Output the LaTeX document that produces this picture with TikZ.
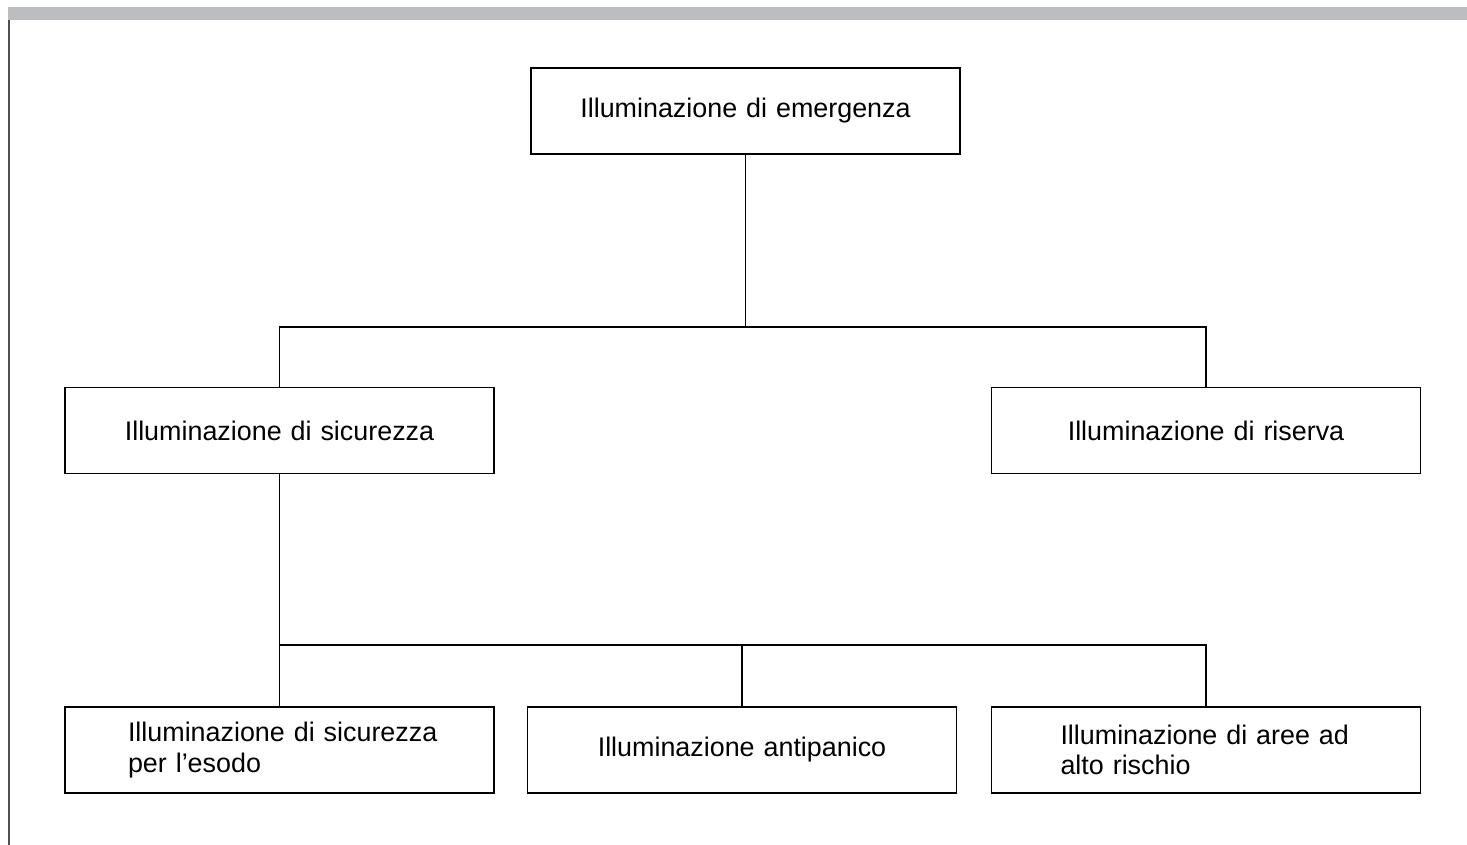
\documentclass[tikz,border=0pt]{standalone}
\usepackage{fontspec}
\setmainfont{Liberation Sans}
\usetikzlibrary{positioning}
\definecolor{bargray}{RGB}{188,189,193}
\definecolor{edgegray}{RGB}{80,80,80}
\newcommand{\indented}[3]{\hspace*{#1}#2\\\hspace*{#1}#3}

\begin{document}
\begin{tikzpicture}[
  font=\fontsize{15.3}{17.5}\selectfont,
  box/.style={draw, line width=0.8pt, text width=7.32cm, inner xsep=0.63cm,
              minimum height=1.72cm, inner ysep=2pt},
  cbox/.style={box, align=center},
  lbox/.style={box, align=left},
  link/.style={line width=0.8pt}
]
\useasboundingbox (0,0) rectangle (29.34,-16.9);
% page frame
\fill[bargray] (0.16,-0.14) rectangle (29.34,-0.40);
\draw[edgegray, line width=1.2pt] (0.18,-0.40) -- (0.18,-16.9);

\node[cbox] (emerg) at (14.91,-2.22) {Illuminazione di emergenza};
\node[cbox] (sic)   at (5.59,-8.61)  {Illuminazione di sicurezza};
\node[cbox] (ris)   at (24.12,-8.61) {Illuminazione di riserva};
\node[lbox] (esodo) at (5.59,-15.0)
  {\indented{0.63cm}{Illuminazione di sicurezza}{per l'esodo}};
\node[cbox] (anti)  at (14.84,-15.0) {Illuminazione antipanico};
\node[lbox] (alto)  at (24.12,-15.0)
  {\indented{0.75cm}{Illuminazione di aree ad}{alto rischio}};

\coordinate (bus1) at (0,-6.54);
\coordinate (bus2) at (0,-12.9);

\draw[link] (emerg.south) -- (emerg.south |- bus1);
\draw[link] (sic.north) |- (emerg.south |- bus1) -| (ris.north);
\draw[link] (sic.south) -- (esodo.north);
\draw[link] (esodo.north |- bus2) -| (alto.north);
\draw[link] (anti.north) -- (anti.north |- bus2);
\end{tikzpicture}
\end{document}
